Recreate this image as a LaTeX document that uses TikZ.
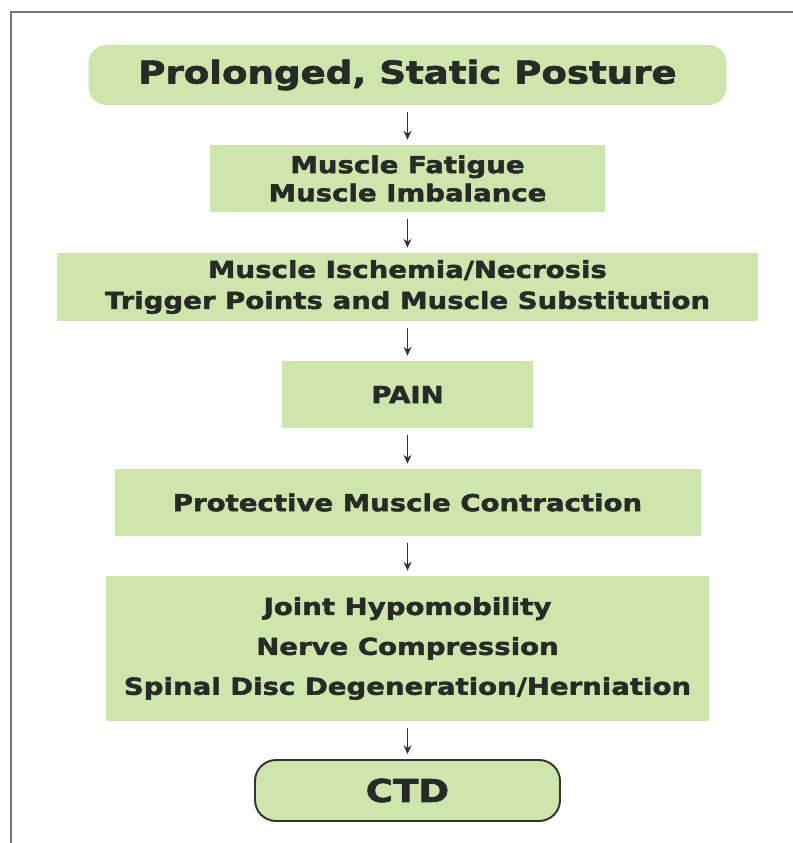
\documentclass[tikz,border=0pt]{standalone}
\usepackage{fontspec}
\newfontfamily\boxfont{DejaVu Sans}[FakeStretch=1.18, FakeBold=2]
\usepackage{tikz}
\usetikzlibrary{arrows.meta, positioning}
\definecolor{boxgreen}{RGB}{206,230,172}
\definecolor{boxtext}{RGB}{40,42,40}
\definecolor{framegray}{RGB}{120,120,120}

\begin{document}
\begin{tikzpicture}[
    stage/.style={fill=boxgreen, text=boxtext, align=center, inner sep=0pt,
      font=\boxfont\bfseries\fontsize{13.3}{16}\selectfont},
    bigstage/.style={stage, font=\boxfont\bfseries\fontsize{17.9}{21}\selectfont},
    flow/.style={-{Stealth[length=5pt,width=4.5pt]}, line width=1pt, black!80,
      shorten <=0.13cm, shorten >=0.1cm}
  ]

  \useasboundingbox (0,0) rectangle (15.86,-16.86);

  % Frame
  \draw[framegray, line width=1.1pt] (15.86,-0.24) -- (0.22,-0.24) -- (0.22,-16.86);

  \def\cx{8.15}

  % Stages
  \node[bigstage, rounded corners=0.36cm, minimum width=12.76cm, minimum height=1.2cm]
    (posture) at (\cx,-1.5) {Prolonged, Static Posture};
  \node[stage, minimum width=7.9cm, minimum height=1.34cm]
    (fatigue) at (\cx,-3.57) {Muscle Fatigue\\Muscle Imbalance};
  \node[stage, minimum width=14.02cm, minimum height=1.36cm,
      font=\boxfont\bfseries\fontsize{13.3}{17.6}\selectfont]
    (ischemia) at (\cx,-5.74) {Muscle Ischemia/Necrosis\\Trigger Points and Muscle Substitution};
  \node[stage, minimum width=5.02cm, minimum height=1.34cm]
    (pain) at (\cx,-7.89) {PAIN};
  \node[stage, minimum width=11.72cm, minimum height=1.34cm]
    (contraction) at (\cx,-10.05) {Protective Muscle Contraction};
  \node[stage, minimum width=12.06cm, minimum height=2.9cm,
      font=\boxfont\bfseries\fontsize{13.3}{22.7}\selectfont]
    (hypo) at (\cx,-12.97) {Joint Hypomobility\\Nerve Compression\\Spinal Disc Degeneration/Herniation};
  \node[bigstage, draw=black!80, line width=1.1pt, rounded corners=0.42cm,
      minimum width=6.1cm, minimum height=1.22cm]
    (ctd) at (\cx,-15.81) {CTD};

  % Arrows
  \foreach \a/\b in {posture/fatigue, fatigue/ischemia, ischemia/pain,
      pain/contraction, contraction/hypo, hypo/ctd}
    \draw[flow] (\a) -- (\b);

\end{tikzpicture}
\end{document}
